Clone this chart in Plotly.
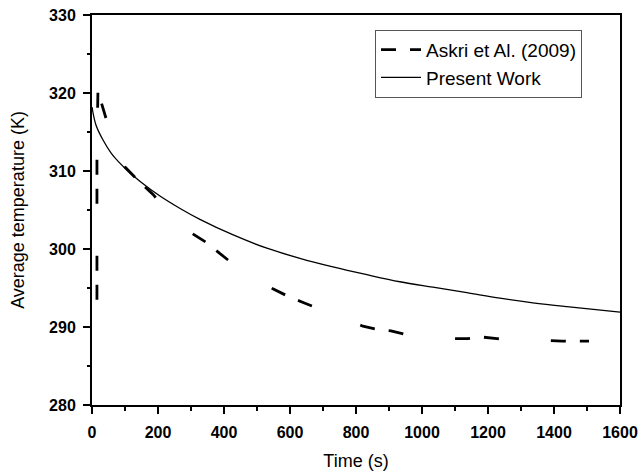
import plotly.graph_objects as go

# Askri et Al. (2009)
askri_t = [15, 15, 18, 55, 100, 139, 185, 221, 303, 348, 388, 427, 548, 591, 636, 673,
           821, 864, 906, 945, 1100, 1139, 1185, 1227, 1379, 1424, 1464, 1506]
askri_T = [293.5, 313.3, 320.2, 315.0, 310.5, 308.8, 307.0, 305.2, 302.0, 300.8, 299.4, 298.1,
           294.9, 294.0, 293.2, 292.6, 290.1, 289.7, 289.5, 289.1, 288.5, 288.5, 288.7, 288.5,
           288.2, 288.2, 288.2, 288.2]

# Present Work
work_t = [0, 12, 33, 58, 80, 109, 145, 206, 267, 327, 428, 530, 630, 730, 833, 933,
          1033, 1136, 1236, 1336, 1439, 1600]
work_T = [318.2, 315.9, 314.0, 312.3, 311.2, 310.0, 308.7, 306.8, 305.2, 303.8, 301.8, 300.1,
          298.8, 297.7, 296.7, 295.8, 295.1, 294.4, 293.7, 293.1, 292.6, 291.9]

x_ticks = [0, 200, 400, 600, 800, 1000, 1200, 1400, 1600]
y_ticks = [280, 290, 300, 310, 320, 330]

FONT = "Liberation Sans, Arial"

fig = go.Figure()
fig.add_trace(go.Scatter(x=askri_t, y=askri_T, mode="lines", name="Askri et Al. (2009)",
                         line=dict(color="black", width=2.8, dash="15px,14px,15px,52px")))
fig.add_trace(go.Scatter(x=work_t, y=work_T, mode="lines", name="Present Work",
                         line=dict(color="black", width=1.3, shape="spline")))

axis_common = dict(showgrid=False, zeroline=False, showline=True, linecolor="black",
                   linewidth=2, mirror=True, ticks="outside", ticklen=7, tickwidth=1.5,
                   tickcolor="black", automargin=False, ticklabeloverflow="allow",
                   tickfont=dict(family=FONT, size=16, color="black", weight="bold"))

fig.update_xaxes(range=[0, 1600], tickvals=x_ticks, ticklabelstandoff=5,
                 minor=dict(dtick=100, ticks="outside", ticklen=4, tickwidth=1.5,
                            tickcolor="black"),
                 title=dict(text="Time (s)", font=dict(family=FONT, size=18, color="black"),
                            standoff=14),
                 **axis_common)
fig.update_yaxes(range=[280, 330], tickvals=y_ticks, ticklabelstandoff=4,
                 minor=dict(dtick=5, ticks="outside", ticklen=3, tickwidth=1.5,
                            tickcolor="black"),
                 title=dict(text="Average temperature (K)",
                            font=dict(family=FONT, size=18, color="black"), standoff=20),
                 **axis_common)

fig.update_layout(
    width=641, height=473,
    margin=dict(l=92, r=21, t=15, b=68),
    plot_bgcolor="white", paper_bgcolor="white",
    showlegend=True,
    legend=dict(x=0.536, y=0.962, xanchor="left", yanchor="top",
                bordercolor="#555555", borderwidth=1, bgcolor="white",
                font=dict(family=FONT, size=19, color="black"),
                tracegroupgap=0, itemwidth=40),
)

fig.write_html(
    "out.html",
    config={"displayModeBar": False},
    post_script="document.body.style.margin='0';document.body.style.overflow='hidden';",
)
